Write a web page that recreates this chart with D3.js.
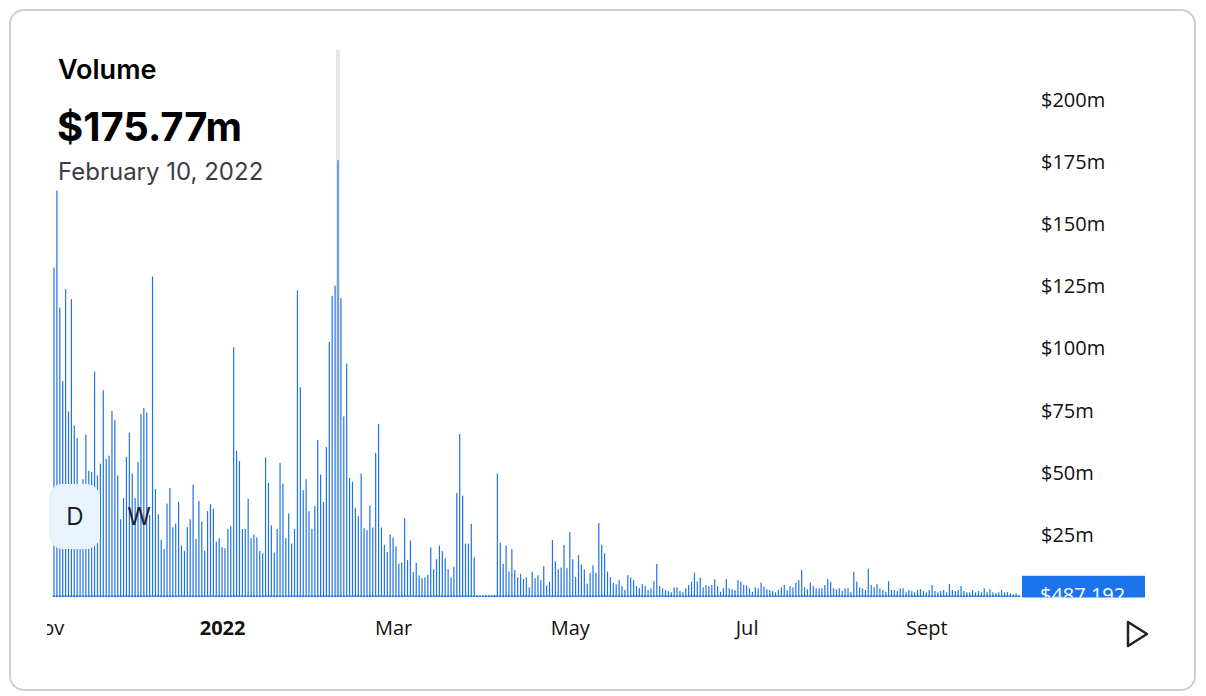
<!DOCTYPE html>
<html>
<head>
<meta charset="utf-8">
<script src="https://cdn.jsdelivr.net/npm/d3@7"></script>
<style>
  html, body { margin: 0; padding: 0; background: #fff; }
  svg { display: block; }
</style>
</head>
<body>
<div id="chart"></div>
<script>
// daily volume in $m, one array per month (first day: Nov 4, 2021)
var startDate = new Date(Date.UTC(2021, 10, 4));

var nov2021 = [132.6, 163.6, 116.5, 86.9, 123.9, 74.6, 119.9, 69.0, 63.9, 45.0,
               47.4, 65.4, 50.8, 50.3, 90.7, 48.9, 53.7, 83.2, 55.6, 56.9,
               74.9, 71.2, 48.9, 31.3, 39.8, 56.3, 66.1];
var dec2021 = [49.7, 39.8, 54.4, 73.7, 76.1, 74.2, 33.0, 129.0, 43.5, 33.3,
               23.0, 19.3, 37.6, 43.9, 28.1, 29.6, 38.3, 20.8, 18.6, 28.1,
               31.3, 45.2, 23.4, 38.6, 30.3, 18.6, 34.6, 37.4, 35.5, 22.3, 23.7];
var jan2022 = [20.1, 19.6, 27.4, 28.5, 100.5, 58.8, 54.7, 27.4, 27.4, 39.5,
               23.7, 25.2, 24.0, 18.6, 17.6, 56.2, 45.9, 28.8, 17.9, 27.4,
               54.0, 45.6, 23.7, 33.7, 21.5, 27.4, 123.4, 84.4, 43.0, 47.4, 34.6];
var feb2022 = [27.4, 36.6, 63.2, 49.3, 38.3, 60.3, 102.7, 121.2, 125.3, 175.77,
               120.2, 72.7, 93.9, 47.9, 46.4, 35.9, 32.5, 49.7, 27.7, 26.9,
               36.8, 28.0, 58.0, 69.7, 28.0, 21.0, 18.1, 25.1];
var mar2022 = [23.9, 20.4, 13.4, 13.9, 31.7, 14.9, 22.8, 10.0, 13.7, 8.7,
               7.6, 7.9, 9.0, 20.0, 11.2, 15.2, 20.7, 18.5, 15.6, 11.2,
               7.9, 12.2, 41.9, 65.6, 40.8, 21.5, 21.5, 29.5, 16.0, 0.6, 0.5];
var apr2022 = [0.4, 0.6, 0.5, 0.5, 0.7, 49.7, 21.9, 13.4, 20.7, 10.2,
               19.3, 10.8, 7.9, 9.3, 7.3, 7.9, 3.9, 10.2, 7.6, 8.7,
               6.8, 12.4, 4.6, 6.1, 22.9, 14.4, 11.2, 11.9, 21.0, 11.6];
var may2022 = [26.1, 15.2, 8.0, 16.9, 13.1, 11.1, 5.4, 9.6, 12.8, 9.8,
               29.8, 21.0, 17.6, 10.2, 8.0, 5.7, 5.1, 6.8, 4.4, 2.8,
               8.8, 7.9, 6.8, 4.4, 3.5, 5.2, 4.4, 2.8, 3.5, 6.4, 13.3];
var jun2022 = [4.4, 3.5, 2.8, 2.4, 1.9, 3.9, 3.9, 2.4, 1.9, 3.5,
               4.8, 6.2, 9.8, 6.2, 7.8, 3.9, 4.8, 4.4, 4.8, 7.2,
               4.4, 2.1, 3.5, 7.2, 3.5, 3.1, 2.8, 6.8, 6.2, 4.8];
var jul2022 = [4.7, 3.5, 2.1, 3.9, 3.5, 5.8, 4.2, 3.1, 2.8, 2.4,
               1.9, 2.8, 3.9, 4.8, 2.8, 4.4, 3.9, 5.8, 6.8, 10.9,
               3.9, 3.1, 5.8, 4.4, 3.5, 3.5, 3.5, 4.8, 7.2, 6.2, 3.5];
var aug2022 = [3.1, 3.5, 2.4, 3.5, 3.5, 1.9, 10.2, 6.2, 3.9, 3.5,
               2.8, 11.3, 4.8, 3.9, 5.2, 3.5, 2.8, 2.1, 6.4, 2.8,
               2.8, 2.4, 3.5, 3.5, 1.9, 2.8, 2.4, 1.9, 2.8, 3.2, 2.4];
var sep2022 = [1.9, 2.8, 4.8, 2.4, 1.9, 2.4, 2.8, 1.9, 5.2, 2.8,
               2.4, 2.8, 4.4, 2.4, 1.9, 1.9, 2.8, 1.9, 2.4, 1.9,
               3.5, 1.9, 3.1, 1.9, 1.5, 1.9, 2.8, 1.9, 1.9, 1.5];
var oct2022 = [1.1, 1.5, 0.487192];

var yTicks = [25, 50, 75, 100, 125, 150, 175, 200];
var xTickDates = [new Date(Date.UTC(2021, 10, 1)), new Date(Date.UTC(2022, 0, 1)),
                  new Date(Date.UTC(2022, 2, 1)), new Date(Date.UTC(2022, 4, 1)),
                  new Date(Date.UTC(2022, 6, 1)), new Date(Date.UTC(2022, 8, 1))];
var monthNames = ["Jan", "Feb", "Mar", "Apr", "May", "Jun", "Jul", "Aug", "Sept", "Oct", "Nov", "Dec"];
var periodButtons = ["D", "W"];
var selectedDate = new Date(Date.UTC(2022, 1, 10));

var volumes = [].concat(nov2021, dec2021, jan2022, feb2022, mar2022, apr2022,
                        may2022, jun2022, jul2022, aug2022, sep2022, oct2022);
var data = volumes.map(function(v, i) {
  return { date: d3.utcDay.offset(startDate, i), value: v };
});

var width = 1206, height = 696;
var plot = { left: 47, right: 1022, top: 50, bottom: 597 };

var svg = d3.select("#chart").append("svg")
    .attr("width", width)
    .attr("height", height);

// card
svg.append("rect")
    .attr("x", 10).attr("y", 10)
    .attr("width", 1185).attr("height", 680)
    .attr("rx", 14)
    .attr("fill", "#fff")
    .attr("stroke", "#c9cfda")
    .attr("stroke-width", 2);

var defs = svg.append("defs");
defs.append("clipPath").attr("id", "plotClip")
  .append("rect")
    .attr("x", plot.left).attr("y", 0)
    .attr("width", plot.right - plot.left).attr("height", plot.bottom + 0.5);
defs.append("clipPath").attr("id", "labelClip")
  .append("rect")
    .attr("x", 1000).attr("y", 0)
    .attr("width", 200).attr("height", plot.bottom + 0.5);
defs.append("clipPath").attr("id", "axisClip")
  .append("rect")
    .attr("x", plot.left).attr("y", plot.bottom)
    .attr("width", 1100).attr("height", 80);

var x = d3.scaleUtc()
    .domain([data[0].date, data[data.length - 1].date])
    .range([54, 1019]);

var y = d3.scaleLinear()
    .domain([0, 200])
    .range([plot.bottom, 100]);

// hover line
svg.append("rect")
    .attr("x", x(selectedDate) - 2)
    .attr("y", plot.top)
    .attr("width", 4)
    .attr("height", plot.bottom - plot.top)
    .attr("fill", "#e6e6e6");

var barColor = "#2172e5";
var bars = svg.append("g").attr("clip-path", "url(#plotClip)");

bars.selectAll("rect.bar")
  .data(data)
  .enter()
  .append("rect")
    .attr("class", "bar")
    .attr("x", function(d) { return x(d.date) - 0.6; })
    .attr("y", function(d) { return y(d.value); })
    .attr("width", 1.2)
    .attr("height", function(d) { return y(0) - y(d.value); })
    .attr("fill", barColor);

// little feet along the baseline
bars.selectAll("rect.foot")
  .data(data)
  .enter()
  .append("rect")
    .attr("class", "foot")
    .attr("x", function(d) { return x(d.date) - 1.2; })
    .attr("y", y(0) - 1.6)
    .attr("width", 2.4)
    .attr("height", 1.6)
    .attr("fill", barColor);

// y axis on the right
var yAxis = svg.append("g")
    .attr("transform", "translate(1041,0)")
    .call(d3.axisRight(y).tickValues(yTicks).tickSize(0).tickPadding(0)
      .tickFormat(function(d) { return "$" + d + "m"; }));
yAxis.select(".domain").remove();
yAxis.selectAll("text")
    .attr("fill", "#111")
    .style("font-family", "'Open Sans', sans-serif")
    .style("font-size", "20px");

// x axis
var xAxis = svg.append("g")
    .attr("clip-path", "url(#axisClip)")
  .append("g")
    .attr("transform", "translate(0," + plot.bottom + ")")
    .call(d3.axisBottom(x).tickValues(xTickDates).tickSize(0).tickPadding(24)
      .tickFormat(function(d) {
        return d.getUTCMonth() === 0 ? String(d.getUTCFullYear()) : monthNames[d.getUTCMonth()];
      }));
xAxis.select(".domain").remove();
xAxis.selectAll("text")
    .attr("fill", "#111")
    .style("font-family", "'Open Sans', sans-serif")
    .style("font-size", "20px")
    .style("font-weight", function(d) { return d.getUTCMonth() === 0 ? "700" : "400"; });

// last value label
var last = data[data.length - 1];
var lastLabel = svg.append("g").attr("clip-path", "url(#labelClip)");
lastLabel.append("rect")
    .attr("x", 1022)
    .attr("y", y(last.value) - 20)
    .attr("width", 123)
    .attr("height", 40)
    .attr("fill", "#1b74ec");
lastLabel.append("text")
    .attr("x", 1040)
    .attr("y", y(last.value))
    .attr("dy", "0.32em")
    .attr("fill", "#fff")
    .style("font-family", "'Open Sans', sans-serif")
    .style("font-size", "20px")
    .text("$" + d3.format(",")(Math.round(last.value * 1e6)));

// header
var sel = data.find(function(d) { return +d.date === +selectedDate; });
var header = svg.append("g").style("font-family", "Inter, sans-serif");
header.append("text")
    .attr("x", 58).attr("y", 79)
    .attr("fill", "#000")
    .style("font-size", "27px")
    .style("font-weight", "600")
    .text("Volume");
header.append("text")
    .attr("x", 57).attr("y", 141)
    .attr("fill", "#000")
    .style("font-size", "40px")
    .style("font-weight", "700")
    .text("$" + d3.format(".2f")(sel.value) + "m");
header.append("text")
    .attr("x", 58).attr("y", 180)
    .attr("fill", "#3a3d45")
    .style("font-size", "24px")
    .text(d3.utcFormat("%B %-d, %Y")(sel.date));

// D / W buttons
var btn = svg.append("g");
btn.append("rect")
    .attr("x", 49).attr("y", 484)
    .attr("width", 51).attr("height", 65)
    .attr("rx", 14)
    .attr("fill", "#e8f3fe");
btn.selectAll("text")
  .data(periodButtons)
  .enter()
  .append("text")
    .attr("x", function(d, i) { return 75 + i * 64; })
    .attr("y", 517)
    .attr("dy", "0.35em")
    .attr("text-anchor", "middle")
    .attr("fill", "#1f2328")
    .style("font-family", "Inter, sans-serif")
    .style("font-size", "24px")
    .text(function(d) { return d; });

// play button
svg.append("path")
    .attr("d", "M1128,622 L1128,646 L1147,634 Z")
    .attr("fill", "none")
    .attr("stroke", "#222")
    .attr("stroke-width", 2.5)
    .attr("stroke-linejoin", "round");
</script>
</body>
</html>
